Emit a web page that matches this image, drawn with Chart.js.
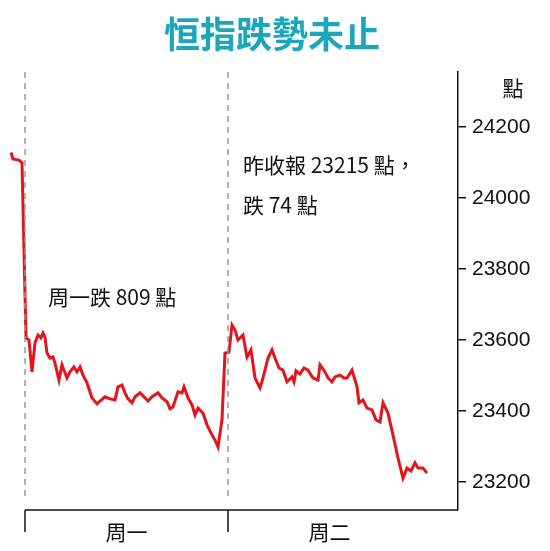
<!DOCTYPE html>
<html><head><meta charset="utf-8">
<script src="https://cdn.jsdelivr.net/npm/chart.js@4/dist/chart.umd.min.js"></script>
<style>html,body{margin:0;padding:0;background:#fff}#c{display:block}</style>
</head><body><canvas id="c" width="550" height="551"></canvas>
<script>
const title = '恒指跌勢未止';
const yTicks = [23200, 23400, 23600, 23800, 24000, 24200];
const dayLabels = ['周一', '周二'];
const dayStarts = [0, 203];
const dayLength = 203;
const notes = ['周一跌 809 點', '昨收報 23215 點，', '跌 74 點'];
const times = [-14,-12,-6,-3,1,4,7,10,13,16,18,20,22,25,28,30,34,37,42,45,49,52,55,58,62,67,72,75,80,85,90,93,97,100,103,107,110,115,120,123,127,133,137,142,145,148,153,157,159,163,167,170,173,178,182,186,190,193,197,200,204,207,210,213,218,222,226,230,235,238,243,247,250,254,258,262,267,269,271,275,279,283,288,293,295,300,303,307,310,315,319,322,327,332,334,338,342,347,351,355,358,363,368,373,378,382,386,390,393,398,402];
const values = [24128,24110,24107,24099,23606,23600,23510,23592,23614,23606,23620,23608,23563,23549,23552,23535,23487,23530,23493,23510,23524,23510,23524,23501,23479,23437,23420,23428,23440,23434,23431,23468,23473,23451,23434,23423,23440,23451,23437,23428,23440,23451,23437,23426,23406,23411,23454,23451,23468,23437,23417,23389,23408,23394,23361,23338,23318,23299,23375,23563,23566,23642,23628,23600,23614,23552,23572,23493,23465,23493,23549,23572,23549,23521,23515,23482,23496,23482,23513,23504,23521,23515,23493,23487,23530,23510,23493,23482,23496,23501,23493,23493,23515,23468,23423,23431,23408,23403,23375,23369,23423,23394,23332,23268,23211,23239,23231,23254,23239,23239,23225];

const deco = {
  id: 'deco',
  afterDraw(chart) {
    const ctx = chart.ctx, x = chart.scales.x, y = chart.scales.y, a = chart.chartArea;
    ctx.save();
    ctx.fillStyle = '#1ba6bb';
    ctx.font = 'bold 36px "Noto Sans CJK TC"';
    ctx.textAlign = 'center'; ctx.textBaseline = 'middle';
    ctx.fillText(title, 272, 34);
    ctx.strokeStyle = '#999'; ctx.lineWidth = 1.5; ctx.setLineDash([6, 5]);
    dayStarts.forEach(d => { const px = x.getPixelForValue(d); ctx.beginPath(); ctx.moveTo(px, a.top); ctx.lineTo(px, a.bottom - 10); ctx.stroke(); });
    ctx.setLineDash([]);
    ctx.strokeStyle = '#111'; ctx.lineWidth = 1.5;
    const x0 = x.getPixelForValue(dayStarts[0]);
    ctx.beginPath(); ctx.moveTo(x0, a.bottom); ctx.lineTo(a.right, a.bottom); ctx.stroke();
    dayStarts.forEach(d => { const px = x.getPixelForValue(d); ctx.beginPath(); ctx.moveTo(px, a.bottom); ctx.lineTo(px, a.bottom + 22); ctx.stroke(); });
    ctx.fillStyle = '#111'; ctx.font = '21px "Noto Sans CJK TC"';
    dayLabels.forEach((l, i) => ctx.fillText(l, x.getPixelForValue(dayStarts[i] + dayLength / 2), a.bottom + 22));
    ctx.textAlign = 'left';
    ctx.fillText(notes[0], 48, 297);
    ctx.fillText(notes[1], 243, 165);
    ctx.fillText(notes[2], 243, 205);
    ctx.textAlign = 'center';
    ctx.fillText('點', 513, 88);
    ctx.restore();
  }
};

new Chart(document.getElementById('c'), {
  type: 'line',
  data: { datasets: [{ data: times.map((t, i) => ({ x: t, y: values[i] })), borderColor: '#e3141b', borderWidth: 3, pointRadius: 0, tension: 0 }] },
  options: {
    responsive: false, animation: false,
    layout: { padding: { top: 72, bottom: 41, left: 0, right: 0 } },
    plugins: { legend: { display: false }, tooltip: { enabled: false } },
    scales: {
      x: { type: 'linear', min: -25, max: 433, display: false },
      y: {
        position: 'right', min: 23121, max: 24355,
        afterBuildTicks: s => { s.ticks = yTicks.map(v => ({ value: v })); },
        afterFit: s => { s.width = 92; },
        grid: { drawOnChartArea: false, tickLength: 8, color: '#111', lineWidth: 1.5 },
        border: { color: '#111', width: 1.5 },
        ticks: { color: '#111', font: { size: 21, family: 'Liberation Sans' }, padding: 6, callback: v => String(v) }
      }
    }
  },
  plugins: [deco]
});
</script></body></html>
